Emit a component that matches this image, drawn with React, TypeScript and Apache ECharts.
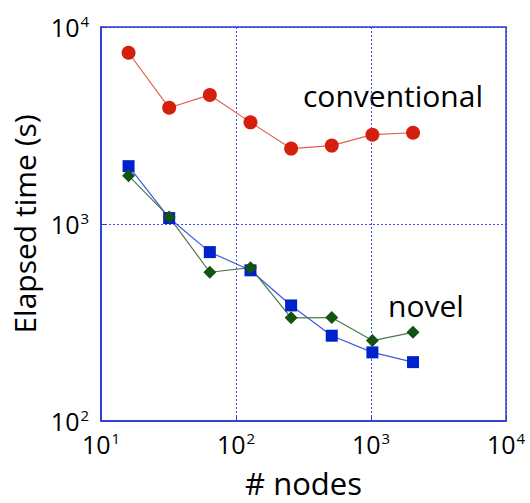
import React, { useEffect, useRef } from "react";
import * as echarts from "echarts";

const nodes = [16, 32, 64, 128, 256, 512, 1024, 2048];
const conventional = [7400, 3890, 4520, 3280, 2415, 2500, 2840, 2905];
const novelBlue = [1966, 1072, 720, 582, 386, 271, 223, 199];
const novelGreen = [1760, 1084, 569, 600, 334, 335, 256, 282];

const FONT = "'Open Sans', 'Noto Sans', sans-serif";

const supFormatter = (v: number) => {
  const e = Math.round(Math.log10(v));
  return "{b|10}{s|" + e + "}";
};
const rich = {
  b: { fontSize: 25, fontFamily: FONT, color: "#000" },
  s: { fontSize: 15, fontFamily: FONT, color: "#000", padding: [0, 0, 12, 1] },
};

export default function App() {
  const ref = useRef<HTMLDivElement>(null);
  useEffect(() => {
    const chart = echarts.init(ref.current!, undefined, { renderer: "svg" });
    const axisColor = "#2a3bd0";
    const gridColor = "#1a30ff";
    chart.setOption({
      animation: false,
      grid: {
        left: 101,
        right: 24,
        top: 27,
        bottom: 74,
        show: true,
        borderColor: axisColor,
        borderWidth: 1.5,
      },
      xAxis: {
        type: "log",
        logBase: 10,
        min: 10,
        max: 10000,
        name: "# nodes",
        nameLocation: "middle",
        nameGap: 46,
        nameTextStyle: { fontSize: 31, fontFamily: FONT, color: "#000" },
        axisLine: { lineStyle: { color: axisColor, width: 1.5 } },
        axisTick: { inside: true, length: 5, lineStyle: { color: axisColor } },
        minorTick: { show: false },
        axisLabel: { formatter: supFormatter, rich, margin: 9 },
        splitLine: { show: true, lineStyle: { color: gridColor, type: [2, 2], width: 1, opacity: 0.85 } },
      },
      yAxis: {
        type: "log",
        logBase: 10,
        min: 100,
        max: 10000,
        name: "Elapsed time (s)",
        nameLocation: "middle",
        nameGap: 62,
        nameTextStyle: { fontSize: 30, fontFamily: FONT, color: "#000" },
        axisLine: { lineStyle: { color: axisColor, width: 1.5 } },
        axisTick: { inside: true, length: 5, lineStyle: { color: axisColor } },
        axisLabel: { formatter: supFormatter, rich, margin: 12 },
        splitLine: { show: true, lineStyle: { color: gridColor, type: [2, 2], width: 1, opacity: 0.85 } },
      },
      graphic: [
        {
          type: "text",
          left: 303,
          top: 80,
          style: { text: "conventional", fontSize: 30, fontFamily: FONT, fill: "#000" },
        },
        {
          type: "text",
          left: 388,
          top: 290,
          style: { text: "novel", fontSize: 30, fontFamily: FONT, fill: "#000" },
        },
      ],
      series: [
        {
          type: "line",
          data: nodes.map((n, i) => [n, conventional[i]]),
          symbol: "circle",
          symbolSize: 14,
          itemStyle: { color: "#d41f0c" },
          lineStyle: { color: "#e06050", width: 1.2 },
        },
        {
          type: "line",
          data: nodes.map((n, i) => [n, novelBlue[i]]),
          symbol: "rect",
          symbolSize: 12,
          itemStyle: { color: "#0022cc" },
          lineStyle: { color: "#4058e0", width: 1.2 },
        },
        {
          type: "line",
          data: nodes.map((n, i) => [n, novelGreen[i]]),
          symbol: "diamond",
          symbolSize: 13,
          itemStyle: { color: "#145214" },
          lineStyle: { color: "#4a7a4a", width: 1.2 },
        },
      ],
    });
    return () => chart.dispose();
  }, []);
  return <div ref={ref} style={{ width: 530, height: 503, position: "absolute", left: 0, top: 0 }} />;
}
